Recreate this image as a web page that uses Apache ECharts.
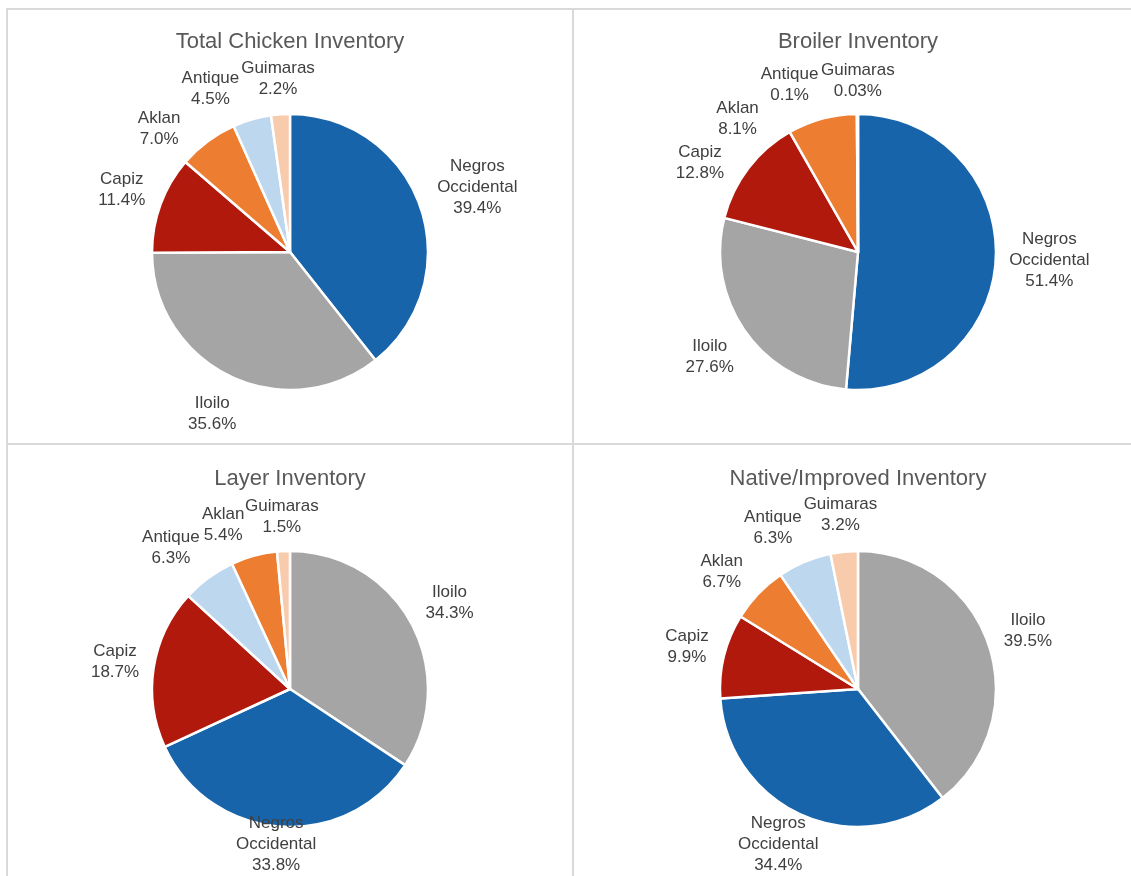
<!DOCTYPE html>
<html>
<head>
<meta charset="utf-8">
<script src="https://cdn.jsdelivr.net/npm/echarts@6/dist/echarts.min.js"></script>
<style>
html,body{margin:0;padding:0;background:#fff;}
#main{width:1131px;height:876px;}
</style>
</head>
<body>
<div id="main"></div>
<script>
// ---- data ----
const chartTitles = ['Total Chicken Inventory', 'Broiler Inventory', 'Layer Inventory', 'Native/Improved Inventory'];

const totalNames  = ['Negros Occidental', 'Iloilo', 'Capiz', 'Aklan', 'Antique', 'Guimaras'];
const totalValues = [39.4, 35.6, 11.4, 7.0, 4.5, 2.2];

const broilerNames  = ['Negros Occidental', 'Iloilo', 'Capiz', 'Aklan', 'Antique', 'Guimaras'];
const broilerValues = [51.4, 27.6, 12.8, 8.1, 0.1, 0.03];

const layerNames  = ['Iloilo', 'Negros Occidental', 'Capiz', 'Antique', 'Aklan', 'Guimaras'];
const layerValues = [34.3, 33.8, 18.7, 6.3, 5.4, 1.5];

const nativeNames  = ['Iloilo', 'Negros Occidental', 'Capiz', 'Aklan', 'Antique', 'Guimaras'];
const nativeValues = [39.5, 34.4, 9.9, 6.7, 6.3, 3.2];

const provinceColors = {
  'Negros Occidental': '#1764AB',
  'Iloilo': '#A5A5A5',
  'Capiz': '#B2190D',
  'Aklan': '#ED7D31',
  'Antique': '#BDD7EE',
  'Guimaras': '#F8CBAD'
};

// ---- styling / layout config ----
const LABEL_FONT = 17, LABEL_LH = 21, FONT_FAMILY = 'Liberation Sans';
const RADIUS = 138, GAP = 12;
const sets = [
  { names: totalNames,   values: totalValues,   center: [290, 252], title: [290, 31],  panel: [8, 10, 572, 443] },
  { names: broilerNames, values: broilerValues, center: [858, 252], title: [858, 31],  panel: [574, 10, 1131, 443] },
  { names: layerNames,   values: layerValues,   center: [290, 689], title: [290, 468], panel: [8, 445, 572, 876] },
  { names: nativeNames,  values: nativeValues,  center: [858, 689], title: [858, 468], panel: [574, 445, 1131, 876] }
];

function fmtPct(v) {
  return (v < 0.1 ? v.toFixed(2) : v.toFixed(1)) + '%';
}
function labelText(name, value) {
  return name.split(' ').join('\n') + '\n' + fmtPct(value);
}

// measure label boxes
const ctx = document.createElement('canvas').getContext('2d');
ctx.font = LABEL_FONT + 'px "' + FONT_FAMILY + '"';
function measure(text) {
  const lines = text.split('\n');
  let w = 0;
  lines.forEach(l => { w = Math.max(w, ctx.measureText(l).width); });
  return { w: w, h: lines.length * LABEL_LH };
}

// Excel-like "best fit" label placement: radial, with collisions resolved by
// sliding labels counter-clockwise around the pie.
function boxAt(s, deg, size) {
  const a = deg * Math.PI / 180;
  const dx = Math.sin(a), dy = -Math.cos(a);
  const d = RADIUS + GAP + Math.abs(dx) * size.w / 2 + Math.abs(dy) * size.h / 2;
  let x = s.center[0] + dx * d, y = s.center[1] + dy * d;
  const p = s.panel;
  x = Math.min(Math.max(x, p[0] + size.w / 2), p[2] - size.w / 2);
  y = Math.min(Math.max(y, p[1] + size.h / 2), p[3] - size.h / 2);
  return { x: x, y: y, x0: x - size.w / 2, x1: x + size.w / 2, y0: y - size.h / 2, y1: y + size.h / 2 };
}
function overlaps(a, b) {
  return a.x0 < b.x1 && b.x0 < a.x1 && a.y0 < b.y1 && b.y0 < a.y1;
}
const labelPos = sets.map(s => {
  const sum = s.values.reduce((a, b) => a + b, 0);
  let cum = 0;
  const mids = s.values.map(v => { const m = (cum + v / 2) / sum * 360; cum += v; return m; });
  const placed = [];
  const res = [];
  for (let i = s.values.length - 1; i >= 0; i--) {
    const size = measure(labelText(s.names[i], s.values[i]));
    let deg = mids[i], box = boxAt(s, deg, size), steps = 0;
    while (placed.some(b => overlaps(b, box)) && steps < 90) {
      deg -= 1; steps++;
      box = boxAt(s, deg, size);
    }
    placed.push(box);
    res[i] = box;
  }
  return res;
});

// ---- chart ----
const chart = echarts.init(document.getElementById('main'));
const lineColor = '#D9D9D9';
const option = {
  backgroundColor: '#ffffff',
  animation: false,
  title: sets.map((s, i) => ({
    text: chartTitles[i],
    left: s.title[0],
    top: s.title[1],
    textAlign: 'center',
    padding: 0,
    textStyle: { fontFamily: FONT_FAMILY, fontSize: 22, fontWeight: 'normal', color: '#595959' }
  })),
  graphic: [
    { type: 'line', shape: { x1: 6, y1: 9, x2: 1131, y2: 9 }, style: { stroke: lineColor, lineWidth: 2 } },
    { type: 'line', shape: { x1: 7, y1: 8, x2: 7, y2: 876 }, style: { stroke: lineColor, lineWidth: 2 } },
    { type: 'line', shape: { x1: 573, y1: 8, x2: 573, y2: 876 }, style: { stroke: lineColor, lineWidth: 2 } },
    { type: 'line', shape: { x1: 6, y1: 444, x2: 1131, y2: 444 }, style: { stroke: lineColor, lineWidth: 2 } }
  ],
  series: sets.map((s, si) => ({
    type: 'pie',
    center: s.center,
    radius: RADIUS,
    startAngle: 90,
    clockwise: true,
    avoidLabelOverlap: false,
    itemStyle: { borderColor: '#ffffff', borderWidth: 2.5 },
    emphasis: { disabled: true },
    label: {
      show: true,
      position: 'outside',
      fontFamily: FONT_FAMILY,
      fontSize: LABEL_FONT,
      lineHeight: LABEL_LH,
      color: '#404040',
      formatter: p => labelText(p.name, p.value)
    },
    labelLine: { show: false },
    labelLayout: params => {
      const b = labelPos[si][params.dataIndex];
      return { x: b.x, y: b.y, align: 'center', verticalAlign: 'middle' };
    },
    data: s.names.map((n, i) => ({ name: n, value: s.values[i], itemStyle: { color: provinceColors[n] } }))
  }))
};
chart.setOption(option);
</script>
</body>
</html>
